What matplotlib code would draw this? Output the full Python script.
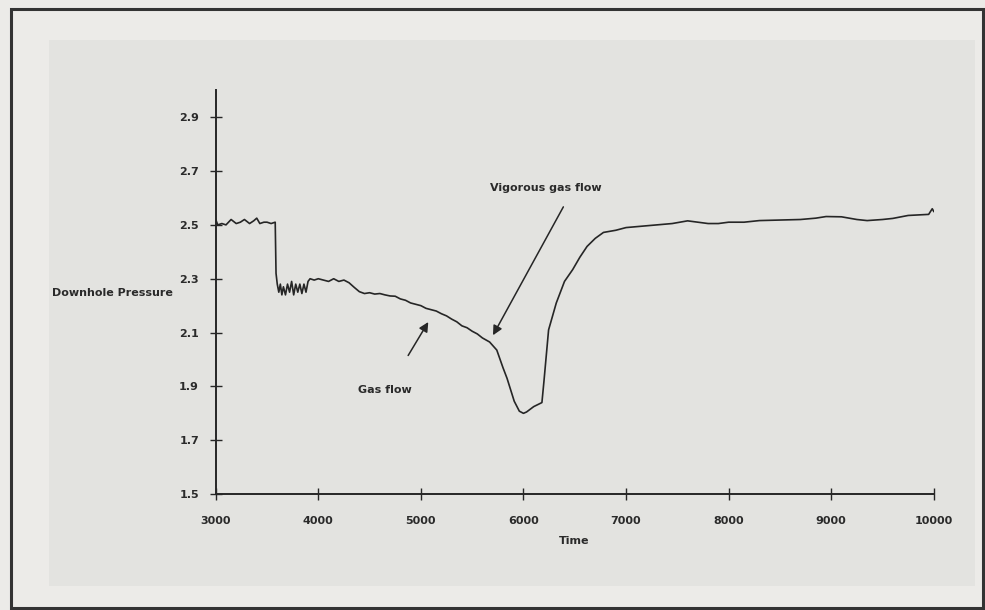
import matplotlib.pyplot as plt
from matplotlib.patches import Rectangle

# data
time = [3000, 3020, 3060, 3100, 3150, 3200, 3240, 3280, 3330, 3370, 3400, 3430, 3470, 3500, 3540, 3580,
        3588, 3600, 3615, 3630, 3645, 3660, 3680, 3700, 3720, 3740, 3760, 3780, 3800, 3820, 3840,
        3860, 3880, 3900, 3920, 3960, 4000, 4050, 4100, 4150, 4200, 4250, 4300, 4350, 4400, 4450,
        4500, 4550, 4600, 4650, 4700, 4750, 4800, 4850, 4900, 4950, 5000, 5050, 5100, 5150, 5200,
        5250, 5300, 5350, 5400, 5450, 5500, 5550, 5600, 5670, 5740, 5800, 5840, 5910, 5960, 6000,
        6030, 6100, 6180, 6200, 6245, 6320, 6400, 6480, 6550, 6620, 6700, 6780, 6900, 7000, 7150,
        7300, 7450, 7600, 7700, 7800, 7900, 8000, 8150, 8300, 8500, 8700, 8850, 8950, 9100, 9250,
        9350, 9500, 9600, 9750, 9950, 9985, 10000]
pressure = [2.52, 2.50, 2.505, 2.50, 2.52, 2.505, 2.51, 2.52, 2.505, 2.515, 2.525, 2.505, 2.51, 2.51, 2.505, 2.51,
            2.32, 2.28, 2.25, 2.28, 2.24, 2.27, 2.24, 2.28, 2.25, 2.29, 2.24, 2.28, 2.25, 2.28, 2.245,
            2.28, 2.25, 2.29, 2.30, 2.295, 2.30, 2.295, 2.29, 2.30, 2.29, 2.295, 2.285, 2.268, 2.252, 2.245,
            2.248, 2.243, 2.245, 2.24, 2.236, 2.235, 2.225, 2.22, 2.21, 2.205, 2.20, 2.19, 2.185, 2.18, 2.17,
            2.162, 2.15, 2.14, 2.125, 2.118, 2.105, 2.095, 2.08, 2.065, 2.035, 1.97, 1.93, 1.845, 1.808, 1.80,
            1.805, 1.825, 1.84, 1.92, 2.11, 2.21, 2.29, 2.334, 2.38, 2.42, 2.45, 2.472, 2.48, 2.49, 2.495,
            2.50, 2.505, 2.515, 2.51, 2.505, 2.505, 2.51, 2.51, 2.516, 2.518, 2.52, 2.525, 2.531, 2.53, 2.52,
            2.516, 2.52, 2.524, 2.535, 2.539, 2.56, 2.55]

x_ticks = [3000, 4000, 5000, 6000, 7000, 8000, 9000, 10000]
y_ticks = [1.5, 1.7, 1.9, 2.1, 2.3, 2.5, 2.7, 2.9]

ink = "#262626"
txt = "#2a2a2a"

fig = plt.figure(figsize=(9.85, 6.1), dpi=100, facecolor="#ecebe8")
# scanned page: inner panel and frame
fig.patches.append(Rectangle((0.05, 0.04), 0.94, 0.895, transform=fig.transFigure,
                             facecolor="#e3e3e0", edgecolor="none", zorder=-2))
fig.patches.append(Rectangle((0.011, 0.003), 0.987, 0.983, transform=fig.transFigure,
                             facecolor="none", edgecolor="#333333", lw=2.2, zorder=-1))

ax = fig.add_axes([0.219, 0.19, 0.729, 0.662])
ax.set_zorder(5)
ax.patch.set_alpha(0)
ax.plot(time, pressure, color=ink, lw=1.2)

ax.set_xlim(3000, 10000)
ax.set_ylim(1.5, 3.0)
ax.set_xticks(x_ticks)
ax.set_yticks(y_ticks)
ax.set_yticklabels([f"{v:.1f}" for v in y_ticks])

for s in ["top", "right"]:
    ax.spines[s].set_visible(False)
for s in ["left", "bottom"]:
    ax.spines[s].set_color(ink)
    ax.spines[s].set_linewidth(1.4)

ax.tick_params(axis="both", direction="inout", length=8, width=1, color=ink,
               labelsize=8, labelcolor=txt)
ax.tick_params(axis="x", pad=12)
ax.tick_params(axis="y", pad=8)
for lab in ax.get_xticklabels() + ax.get_yticklabels():
    lab.set_fontweight("bold")

fig.text(0.053, 0.519, "Downhole Pressure", fontsize=8, color=txt, weight="bold",
         ha="left", va="center")
fig.text(0.583, 0.113, "Time", fontsize=8, color=txt, weight="bold", ha="center", va="center")

arrow = dict(arrowstyle="-|>", color=ink, lw=1.1, mutation_scale=14)
ax.annotate("Gas flow", xy=(4647, 1.887), fontsize=8, weight="bold",
            color=txt, ha="center", va="center")
ax.annotate("", xy=(5086, 2.148), xytext=(4862, 2.006), arrowprops=arrow)
ax.annotate("Vigorous gas flow", xy=(6216, 2.636), fontsize=8, weight="bold",
            color=txt, ha="center", va="center")
ax.annotate("", xy=(5690, 2.081), xytext=(6402, 2.576), arrowprops=arrow)

fig.savefig("out.png", dpi=100, facecolor=fig.get_facecolor())
